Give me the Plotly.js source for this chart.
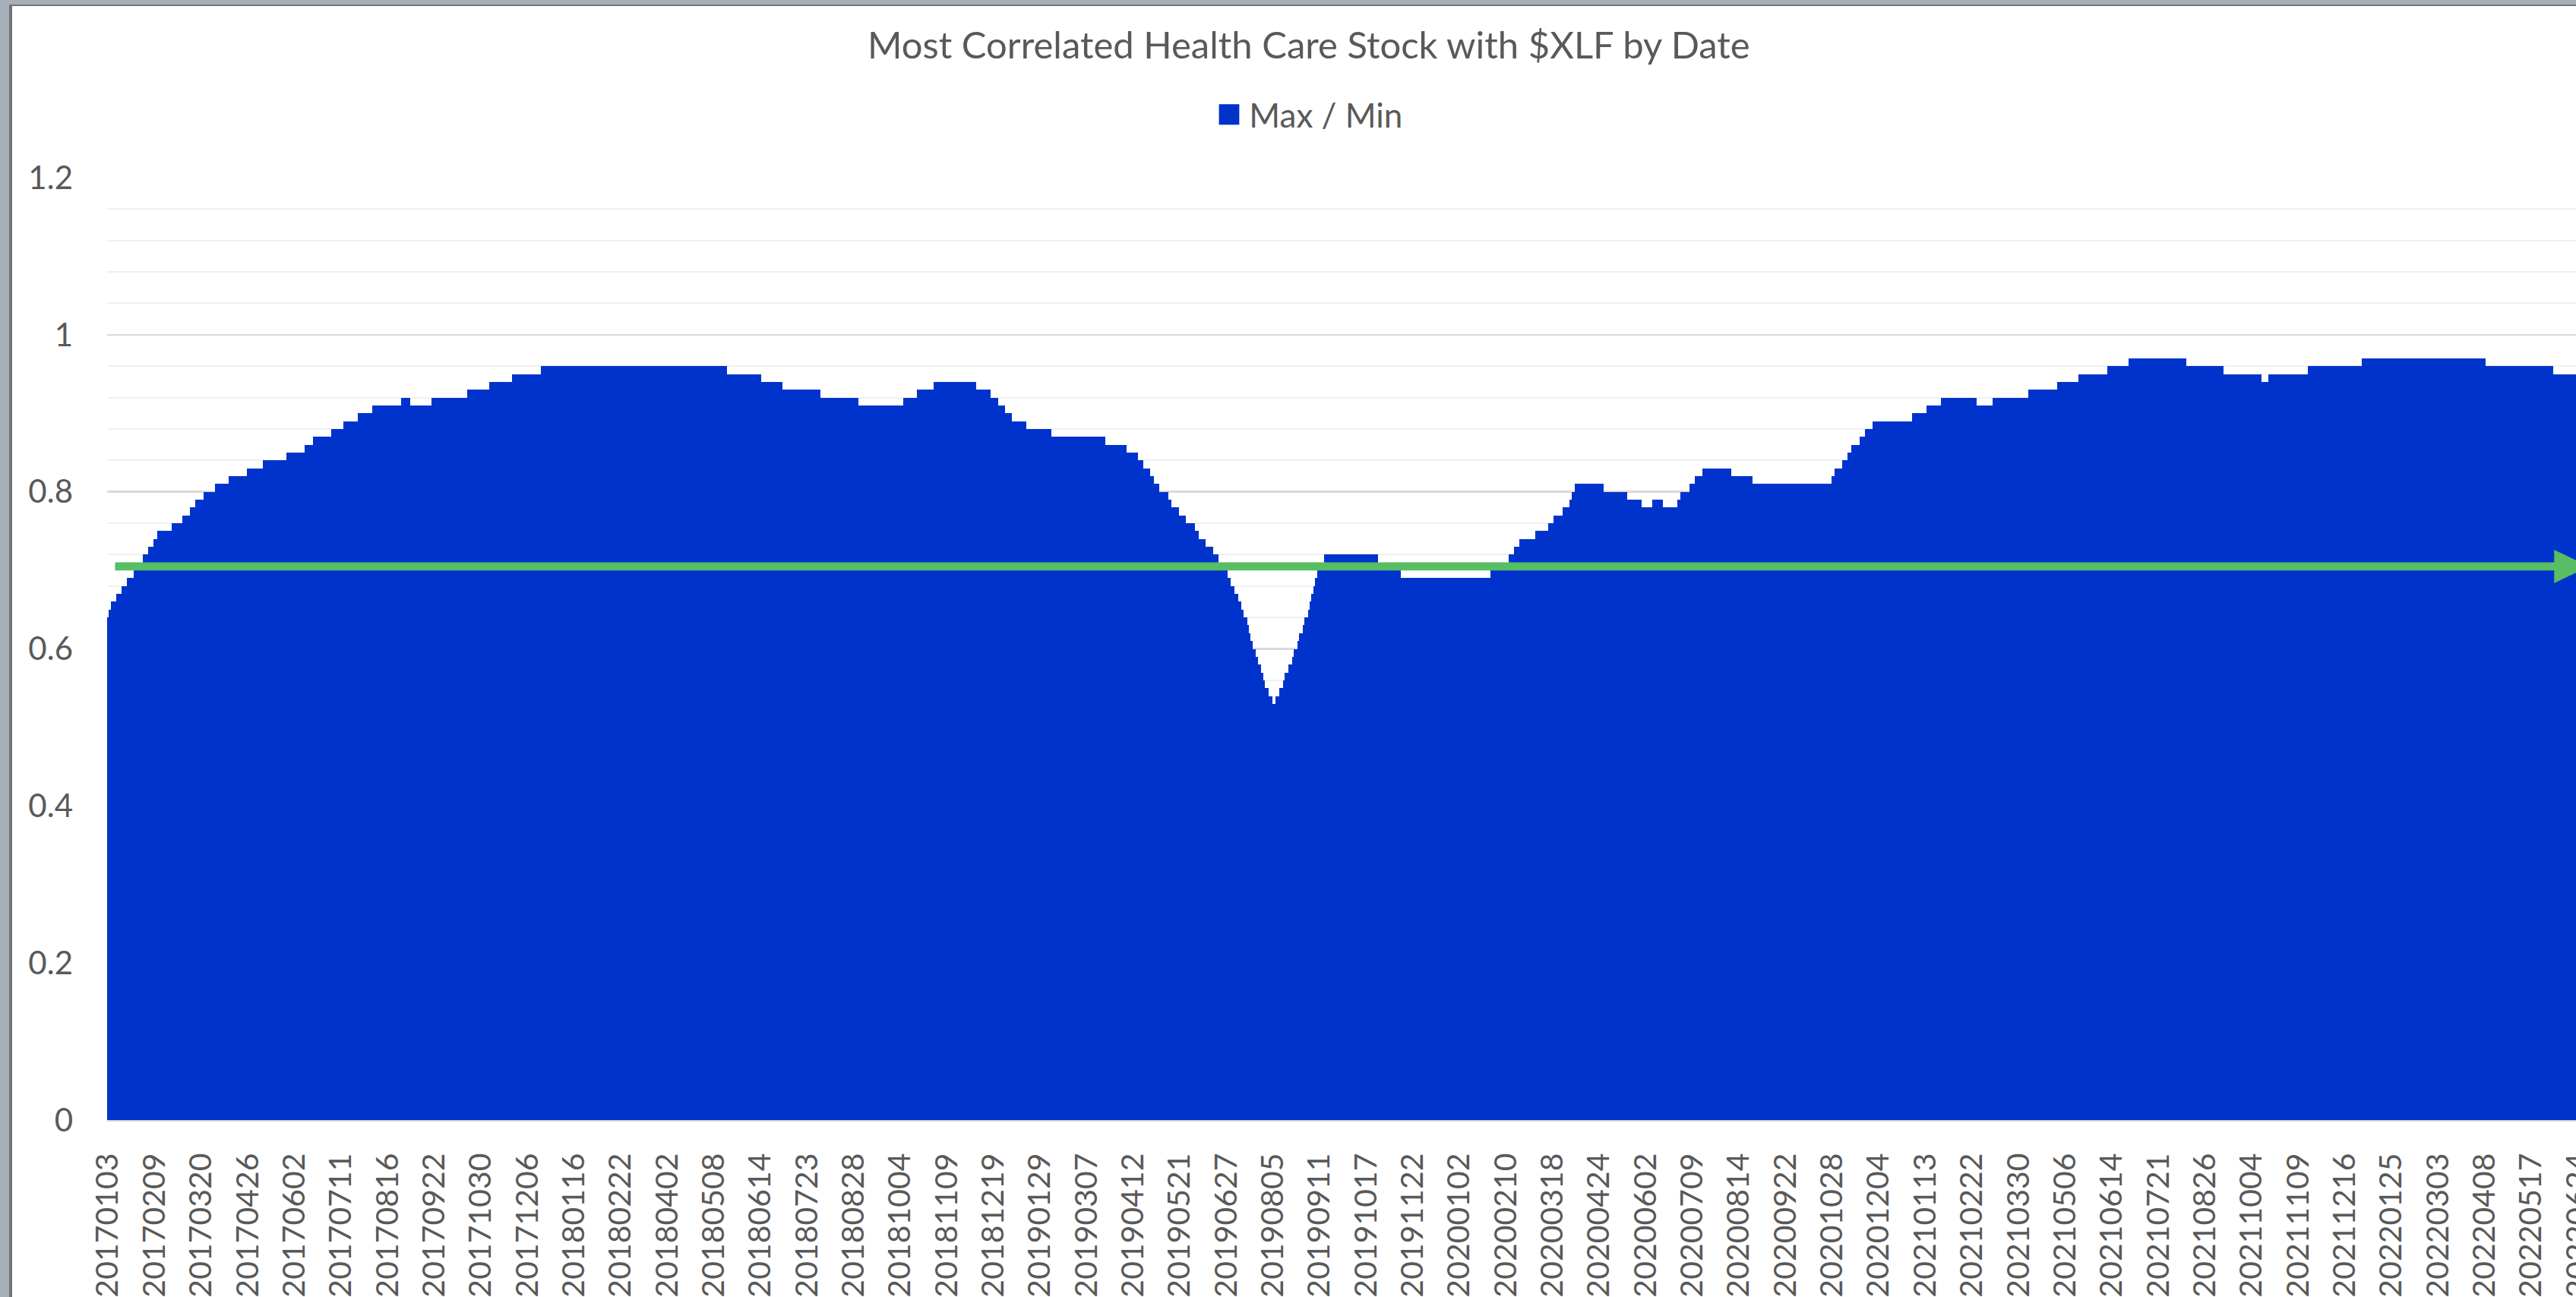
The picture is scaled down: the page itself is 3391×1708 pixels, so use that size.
<!DOCTYPE html>
<html>
<head>
<meta charset="utf-8">
<script src="https://cdn.plot.ly/plotly-3.0.1.min.js"></script>
<style>
  html, body { margin: 0; padding: 0; width: 3391px; height: 1708px; overflow: hidden; background: #a6aeb8; }
  #frame { position: absolute; left: 12px; top: 6px; width: 3500px; height: 1800px; background: #ffffff;
           border-left: 4px solid #6f747b; border-top: 2px solid #6f747b; overflow: hidden; }
  #chart { position: absolute; left: 0; top: 0; width: 3400px; height: 1700px; }
</style>
</head>
<body>
<div id="frame"><div id="chart"></div></div>
<script>
// ---- DATA ----
const chartTitle = 'Most Correlated Health Care Stock with $XLF by Date';
const seriesName = 'Max / Min';

// x-axis category labels shown (every 26th trading day)
const tickLabels = [
  '20170103','20170209','20170320','20170426','20170602','20170711','20170816','20170922','20171030','20171206',
  '20180116','20180222','20180402','20180508','20180614','20180723','20180828','20181004','20181109','20181219',
  '20190129','20190307','20190412','20190521','20190627','20190805','20190911','20191017','20191122','20200102',
  '20200210','20200318','20200424','20200602','20200709','20200814','20200922','20201028','20201204','20210113',
  '20210222','20210330','20210506','20210614','20210721','20210826','20211004','20211109','20211216','20220125',
  '20220303','20220408','20220517','20220624'
];

// series read as steps: value of each step and how many consecutive trading days it lasts
const stepValues = [
  0.64,0.65,0.66,0.67,0.68,0.69,0.70,0.71,0.72,0.73,0.74,0.75,0.76,0.77,0.78,0.79,0.80,0.81,0.82,0.83,
  0.84,0.85,0.86,0.87,0.88,0.89,0.90,0.91,0.92,0.91,0.92,0.93,0.94,0.95,0.96,
  0.95,0.94,0.93,0.92,0.91,0.92,0.93,0.94,0.93,0.92,0.91,0.90,0.89,0.88,0.87,
  0.86,0.85,0.84,0.83,0.82,0.81,0.80,0.79,0.78,0.77,0.76,0.75,0.74,0.73,0.72,0.71,0.70,0.69,0.68,0.67,
  0.66,0.65,0.64,0.63,0.62,0.61,0.60,0.59,0.58,0.57,0.56,0.55,0.54,0.53,
  0.54,0.55,0.56,0.57,0.58,0.59,0.60,0.61,0.62,0.63,0.64,0.65,0.66,0.67,0.68,0.69,0.70,0.71,0.72,
  0.71,0.70,0.69,0.70,0.71,0.72,0.73,0.74,0.75,0.76,0.77,0.78,0.79,0.80,0.81,
  0.80,0.79,0.78,0.79,0.78,0.79,0.80,0.81,0.82,0.83,0.82,0.81,
  0.82,0.83,0.84,0.85,0.86,0.87,0.88,0.89,0.90,0.91,0.92,0.91,0.92,0.93,0.94,0.95,
  0.96,0.97,0.96,0.95,0.94,0.95,0.96,0.97,0.96,0.95
];
const stepLengths = [
  1,1,3,3,3,4,3,2,3,3,2,8,6,4,3,5,6,8,10,9,
  13,10,5,10,7,8,8,16,5,12,20,12,13,16,104,
  19,12,21,21,25,8,9,24,8,4,4,4,8,14,30,
  12,6,3,4,2,3,5,2,4,4,5,2,4,4,3,2,3,2,2,2,
  2,1,2,1,1,1,2,1,2,1,1,2,2,2,
  2,2,1,2,2,1,2,1,2,1,2,1,1,1,1,1,2,2,30,
  7,6,50,5,5,3,3,9,7,3,5,4,1,2,16,
  13,8,6,6,8,2,5,3,4,16,12,44,
  2,4,3,2,5,3,4,22,8,8,20,9,20,16,12,16,
  12,32,21,21,4,22,30,69,38,13
];

const threshold = 0.705;   // green reference arrow level

// ---- build series ----
const values = [];
stepValues.forEach((v, k) => { for (let j = 0; j < stepLengths[k]; j++) values.push(v); });
const N = values.length;
const xIndex = values.map((_, i) => i);
const labelInterval = 26;
const tickvals = tickLabels.map((_, k) => k * labelInterval);

const font = 'Lato, "Open Sans", sans-serif';
const grey = '#595959';
const green = '#58be63';

// geometry: the chart runs on past the right edge of the window, as in the reference
const divW = 3400, divH = 1700;
const pxPerBar = 2.3595;
const xMin = -0.5, xMax = N - 0.5 + 8;
const plotL = 124.5;
const plotW = (xMax - xMin) * pxPerBar;
const plotT = 226, plotH = 1241.5;
const pxPerUnit = plotH / 1.2;

const lineStart = xMin + 10.5 / pxPerBar;
const headStart = xMin + 3221.5 / pxPerBar;
const headTip = headStart + 46 / pxPerBar;
const headHalf = 22 / pxPerUnit;

const data = [{
  type: 'bar',
  x: xIndex,
  y: values,
  name: seriesName,
  marker: { color: '#0033cc', line: { width: 0 } },
  hoverinfo: 'skip',
  showlegend: true
}];

const layout = {
  width: divW, height: divH,
  margin: { l: plotL, r: divW - plotL - plotW, t: plotT, b: divH - plotT - plotH, pad: 0 },
  paper_bgcolor: '#ffffff', plot_bgcolor: '#ffffff',
  bargap: 0,
  showlegend: true,
  title: {
    text: chartTitle,
    font: { family: font, size: 49, color: grey },
    xref: 'container', x: 0.502, xanchor: 'center',
    yref: 'container', y: 1 - 52 / divH, yanchor: 'middle'
  },
  legend: {
    orientation: 'h', x: (1728 - 16 - plotL) / plotW, xanchor: 'center', y: 1 + (plotT - 143) / plotH, yanchor: 'middle',
    font: { family: font, size: 44, color: grey }, bgcolor: 'rgba(0,0,0,0)'
  },
  xaxis: {
    type: 'linear', range: [xMin, xMax], autorange: false,
    tickmode: 'array', tickvals: tickvals, ticktext: tickLabels, tickangle: -90,
    ticks: '', showgrid: false, zeroline: false,
    showline: true, linecolor: '#d9d9d9', linewidth: 2,
    tickfont: { family: font, size: 41, color: grey },
    ticklabelstandoff: 25, fixedrange: true
  },
  xaxis2: {
    overlaying: 'x', anchor: 'y', side: 'bottom', type: 'linear',
    range: [xMin, xMax], autorange: false,
    tickmode: 'linear', tick0: -0.5, dtick: 1,
    ticks: 'outside', ticklen: 14, tickwidth: 1.5, tickcolor: '#d9d9d9',
    showticklabels: false, showgrid: false, zeroline: false, showline: false, fixedrange: true
  },
  yaxis: {
    range: [0, 1.2], autorange: false, tick0: 0, dtick: 0.2,
    showgrid: true, gridcolor: '#d9d9d9', gridwidth: 2.5,
    zeroline: false, showline: false, ticks: '',
    tickfont: { family: font, size: 42, color: grey },
    ticklabelstandoff: 44, fixedrange: true,
    minor: { tick0: 0, dtick: 0.04, showgrid: true, gridcolor: '#f0f0f0', gridwidth: 2 }
  },
  shapes: [
    { type: 'line', xref: 'x', yref: 'y', x0: lineStart, x1: headStart + 0.5, y0: threshold, y1: threshold,
      line: { color: green, width: 10.7 }, layer: 'above' },
    { type: 'path', xref: 'x', yref: 'y',
      path: `M ${headStart} ${threshold - headHalf} L ${headTip} ${threshold} L ${headStart} ${threshold + headHalf} Z`,
      fillcolor: green, line: { width: 0 }, layer: 'above' }
  ]
};

Plotly.newPlot('chart', data, layout, { displayModeBar: false, staticPlot: true }).then(() => {
  // enlarge the legend swatch to the reference's square size, leaving a gap before the text
  document.querySelectorAll('#chart .legendpoints path').forEach(p => p.setAttribute('d', 'M7,13.5H-20V-13.5H7Z'));
});
</script>
</body>
</html>
